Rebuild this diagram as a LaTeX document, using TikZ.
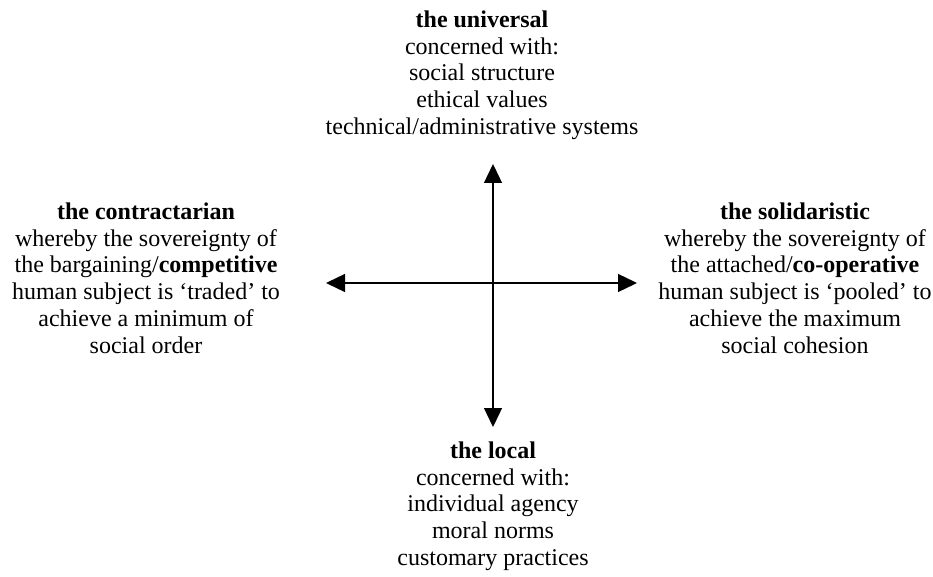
\documentclass[tikz,border=0pt]{standalone}
\usepackage{fontspec}
\setmainfont{Liberation Serif}
\usetikzlibrary{arrows.meta, positioning}

\begin{document}
\begin{tikzpicture}[
            x=1pt, y=-1pt,
            base/.style = {align=center, inner sep=0pt, anchor=north, font=\fontsize{24}{26.8}\selectfont},
            axis/.style = {line width=1.3pt, {Triangle[length=19pt, width=18pt]}-{Triangle[length=19pt, width=18pt]}}
        ]
            \useasboundingbox (0,0) rectangle (933,577);

            % --- 1. Nodes ---
            \node [base] (universal) at (482,10.5) {\textbf{the universal} \\ concerned with: \\ social structure \\ ethical values \\ technical/administrative systems};
            \node [base] (contract) at (146,202.5) {\textbf{the contractarian} \\ whereby the sovereignty of \\ the bargaining/\textbf{competitive} \\ human subject is ‘traded’ to \\ achieve a minimum of \\ social order};
            \node [base] (solid) at (795,202.5) {\textbf{the solidaristic} \\ whereby the sovereignty of \\ the attached/\textbf{co-operative} \\ human subject is ‘pooled’ to \\ achieve the maximum \\ social cohesion};
            \node [base] (local) at (493,441.5) {\textbf{the local} \\ concerned with: \\ individual agency \\ moral norms \\ customary practices};

            % axis ends
            \coordinate (up) at (493,164);
            \coordinate (down) at (493,427);
            \coordinate (left) at (326,283);
            \coordinate (right) at (637,283);

            % --- 2. Axes ---
            \draw [axis] (down) -- (up);
            \draw [axis] (left) -- (right);

        \end{tikzpicture}
\end{document}
